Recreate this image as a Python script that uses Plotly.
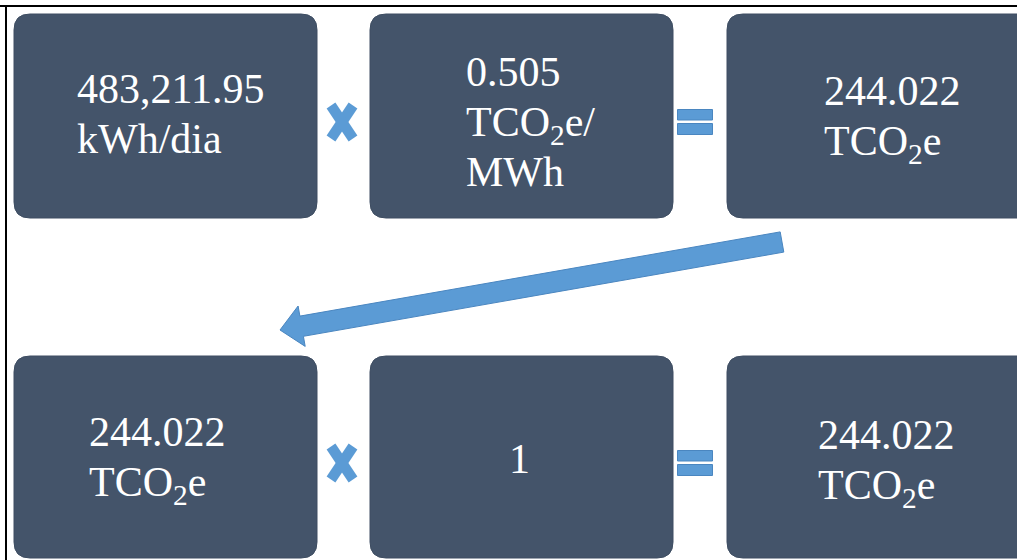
import plotly.graph_objects as go

# ---- content (data) ----
top_row_labels = [
    ["483,211.95", "kWh/dia"],
    ["0.505", "TCO<sub>2</sub>e/", "MWh"],
    ["244.022", "TCO<sub>2</sub>e"],
]
bottom_row_labels = [
    ["244.022", "TCO<sub>2</sub>e"],
    ["1"],
    ["244.022", "TCO<sub>2</sub>e"],
]
operators = ["×", "="]

# ---- layout geometry (px, y downward) ----
W, H = 1017, 560
col_left = [14, 370, 727]
col_right = [317, 673, 1040]
row_top = [14, 356]
row_bottom = [218, 558]
text_left = [[76, 465, 823], [88, 508, 817]]
first_baseline = [[102, 85, 104], [445, 472, 448]]
line_step = 50
op_x = [342, 695]
row_mid = [122, 463]

BOX = "#44546a"
BLUE = "#5b9bd5"
BLUE_EDGE = "#4a86c0"
FONT = "Liberation Serif"
FS = 42
ASC = 0.891

fig = go.Figure()
fig.add_trace(go.Scatter(x=[0, W], y=[0, H], mode="markers",
                         marker=dict(opacity=0), hoverinfo="skip", showlegend=False))

shapes = []
annotations = []


def rrect(x0, y0, x1, y1, r):
    return (f"M {x0+r},{y0} L {x1-r},{y0} Q {x1},{y0} {x1},{y0+r} "
            f"L {x1},{y1-r} Q {x1},{y1} {x1-r},{y1} L {x0+r},{y1} "
            f"Q {x0},{y1} {x0},{y1-r} L {x0},{y0+r} Q {x0},{y0} {x0+r},{y0} Z")


rows = [top_row_labels, bottom_row_labels]
for ri, labels in enumerate(rows):
    for ci, lines in enumerate(labels):
        shapes.append(dict(type="path", xref="x", yref="y",
                           path=rrect(col_left[ci], row_top[ri], col_right[ci], row_bottom[ri], 16),
                           fillcolor=BOX, line=dict(color="#3e4d62", width=1), layer="below"))
        for li, txt in enumerate(lines):
            base = first_baseline[ri][ci] + li * line_step
            annotations.append(dict(x=text_left[ri][ci], y=base - ASC * FS, xref="x", yref="y",
                                    text=txt, showarrow=False, xanchor="left", yanchor="top",
                                    borderpad=0,
                                    font=dict(family=FONT, size=FS, color="white")))
    # operators
    cx, cy = op_x[0], row_mid[ri]
    for sx in (-1, 1):
        shapes.append(dict(type="line", xref="x", yref="y",
                           x0=cx - 11 * sx, y0=cy - 16.5, x1=cx + 11 * sx, y1=cy + 16.5,
                           line=dict(color=BLUE, width=10.5)))
    ex, ey = op_x[1], row_mid[ri]
    for y0, y1 in ((ey - 12.5, ey - 2), (ey + 1.5, ey + 12.5)):
        shapes.append(dict(type="rect", xref="x", yref="y", x0=ex - 17.5, x1=ex + 17.5,
                           y0=y0, y1=y1, fillcolor=BLUE, line=dict(color=BLUE_EDGE, width=1)))

# ---- arrow from top-right box to bottom-left box ----
tail = (782.0, 242.0)
tip = (280.0, 330.0)
dx, dy = tip[0] - tail[0], tip[1] - tail[1]
L = (dx ** 2 + dy ** 2) ** 0.5
ux, uy = dx / L, dy / L
nx, ny = -uy, ux
w, hw, hl = 10.3, 20.5, 22.0
neck = (tip[0] - ux * hl, tip[1] - uy * hl)
pts = [
    (tail[0] + nx * w, tail[1] + ny * w),
    (neck[0] + nx * w, neck[1] + ny * w),
    (neck[0] + nx * hw, neck[1] + ny * hw),
    tip,
    (neck[0] - nx * hw, neck[1] - ny * hw),
    (neck[0] - nx * w, neck[1] - ny * w),
    (tail[0] - nx * w, tail[1] - ny * w),
]
path = "M " + " L ".join(f"{x:.1f},{y:.1f}" for x, y in pts) + " Z"
shapes.append(dict(type="path", xref="x", yref="y", path=path,
                   fillcolor=BLUE, line=dict(color=BLUE_EDGE, width=1)))

# ---- frame lines ----
shapes.append(dict(type="line", xref="x", yref="y", x0=0, x1=W, y0=6, y1=6,
                   line=dict(color="black", width=2)))
shapes.append(dict(type="line", xref="x", yref="y", x0=6, x1=6, y0=5, y1=H,
                   line=dict(color="black", width=2)))

# clipped caption descenders above the frame
for px in (111, 745):
    annotations.append(dict(x=px / W, y=1 - 0.5 / H, xref="paper", yref="paper", text="p",
                            showarrow=False, xanchor="center", yanchor="bottom", borderpad=0,
                            font=dict(family=FONT, size=24, color="black", style="italic")))

fig.update_layout(
    width=W, height=H, margin=dict(l=0, r=0, t=0, b=0),
    paper_bgcolor="white", plot_bgcolor="white",
    xaxis=dict(range=[0, W], visible=False, fixedrange=True),
    yaxis=dict(range=[H, 0], visible=False, fixedrange=True),
    shapes=shapes, annotations=annotations, showlegend=False,
)
fig.write_html("out.html", config={"displayModeBar": False},
               post_script="document.body.style.margin='0';document.body.style.overflow='hidden';")
